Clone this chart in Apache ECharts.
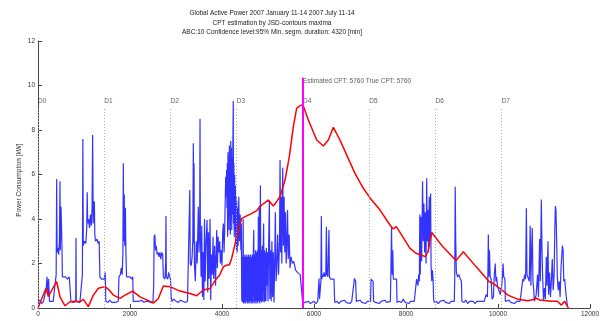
<!DOCTYPE html>
<html>
<head>
<meta charset="utf-8">
<script src="https://cdn.jsdelivr.net/npm/echarts@6/dist/echarts.min.js"></script>
<style>
  html, body { margin: 0; padding: 0; background: #fff; }
  #main { width: 603px; height: 321px; }
</style>
</head>
<body>
<div id="main"></div>
<script>
"use strict";

// 分钟 / 功率 (蓝色原始数据)
let blueT = [
  0, 40, 80, 120, 160, 180, 196, 215, 230, 250, 290, 330, 370, 395, 406, 415, 430, 450, 465, 478,
  485, 495, 500, 510, 520, 530, 560, 600, 640, 680, 700, 715, 760, 800, 820, 826, 832, 870, 910, 950,
  965, 975, 985, 1010, 1040, 1060, 1070, 1080, 1100, 1120, 1140, 1160, 1175, 1188, 1200, 1215, 1225, 1235, 1250, 1280,
  1310, 1330, 1345, 1380, 1410, 1440, 1460, 1475, 1520, 1560, 1600, 1640, 1680, 1720, 1745, 1760, 1790, 1810, 1830, 1845,
  1855, 1865, 1875, 1885, 1900, 1910, 1925, 1960, 2000, 2040, 2060, 2070, 2120, 2160, 2200, 2250, 2300, 2350, 2400, 2450,
  2500, 2515, 2525, 2540, 2555, 2570, 2590, 2610, 2630, 2650, 2670, 2690, 2710, 2725, 2760, 2775, 2782, 2790, 2820, 2840,
  2860, 2880, 2895, 2910, 2950, 3000, 3050, 3100, 3150, 3200, 3250, 3290, 3300, 3310, 3330, 3350, 3365, 3377, 3385, 3392,
  3400, 3420, 3440, 3460, 3485, 3500, 3515, 3522, 3530, 3545, 3560, 3575, 3590, 3605, 3620, 3635, 3650, 3675, 3690, 3705,
  3720, 3740, 3755, 3770, 3790, 3805, 3820, 3840, 3860, 3885, 3900, 3915, 3930, 3950, 3965, 3985, 4000, 4015, 4030, 4045,
  4060, 4080, 4090, 4100, 4108, 4115, 4122, 4130, 4138, 4145, 4152, 4160, 4168, 4175, 4182, 4190, 4198, 4205, 4212, 4220,
  4228, 4235, 4245, 4250, 4258, 4266, 4274, 4282, 4290, 4298, 4306, 4314, 4322, 4330, 4340, 4350, 4365, 4380, 4395, 4410,
  4420, 4430, 4440, 4450, 4460, 4470, 4480, 4490, 4500, 4510, 4520, 4530, 4540, 4550, 4560, 4570, 4580, 4590, 4600, 4610,
  4620, 4630, 4640, 4650, 4660, 4670, 4680, 4690, 4700, 4710, 4720, 4730, 4740, 4750, 4760, 4770, 4780, 4790, 4800, 4810,
  4820, 4835, 4845, 4855, 4865, 4875, 4885, 4895, 4905, 4915, 4925, 4935, 4945, 4955, 4965, 4975, 4990, 5000, 5015, 5030,
  5040, 5055, 5070, 5085, 5100, 5115, 5130, 5145, 5160, 5175, 5190, 5210, 5230, 5250, 5262, 5275, 5290, 5300, 5320, 5335,
  5350, 5365, 5380, 5395, 5410, 5425, 5440, 5460, 5480, 5500, 5530, 5560, 5600, 5640, 5665, 5700, 5740, 5755, 5760, 5800,
  5840, 5880, 5920, 5960, 6000, 6040, 6080, 6100, 6110, 6120, 6150, 6160, 6170, 6185, 6200, 6220, 6240, 6255, 6270, 6280,
  6300, 6325, 6335, 6360, 6400, 6435, 6450, 6500, 6540, 6580, 6620, 6660, 6700, 6740, 6780, 6820, 6860, 6880, 6905, 6920,
  6960, 7000, 7040, 7080, 7120, 7160, 7200, 7230, 7240, 7265, 7285, 7295, 7340, 7380, 7420, 7460, 7500, 7540, 7580, 7620,
  7660, 7670, 7685, 7700, 7712, 7725, 7760, 7795, 7805, 7850, 7900, 7940, 7980, 8020, 8060, 8100, 8140, 8180, 8220, 8230,
  8260, 8275, 8290, 8300, 8310, 8325, 8340, 8360, 8375, 8390, 8405, 8420, 8435, 8450, 8462, 8475, 8490, 8505, 8520, 8535,
  8545, 8560, 8575, 8590, 8600, 8615, 8660, 8700, 8740, 8780, 8820, 8860, 8900, 8940, 8980, 9020, 9050, 9060, 9070, 9080,
  9095, 9120, 9150, 9180, 9205, 9215, 9260, 9300, 9340, 9380, 9420, 9460, 9500, 9540, 9580, 9620, 9660, 9700, 9740, 9770,
  9780, 9790, 9800, 9815, 9830, 9850, 9870, 9900, 9920, 9940, 9955, 9970, 9990, 10020, 10050, 10080, 10095, 10110, 10125, 10150,
  10160, 10200, 10240, 10280, 10320, 10360, 10400, 10440, 10480, 10520, 10540, 10560, 10580, 10600, 10617, 10630, 10660, 10680, 10700, 10715,
  10730, 10745, 10760, 10775, 10790, 10810, 10830, 10860, 10880, 10905, 10920, 10942, 10955, 10970, 10990, 11010, 11030, 11050, 11065, 11087,
  11100, 11120, 11140, 11160, 11180, 11200, 11220, 11235, 11247, 11260, 11275, 11290, 11310, 11330, 11350, 11370, 11400, 11415, 11430, 11450,
  11470, 11490, 11510
];
let blueP = [
  0.25, 0.35, 0.2, 0.3, 0.25, 0.9, 1.4, 0.6, 1.3, 0.3, 0.25, 0.3, 0.3, 1.5, 5.8, 2.5, 2.7, 2.4, 3.0, 5.7,
  2.6, 3.6, 4.55, 3.8, 2.9, 1.4, 1.35, 1.4, 1.3, 1.4, 1.4, 0.3, 0.25, 0.3, 0.3, 3.15, 0.3, 0.35, 0.25, 0.3,
  1.5, 7.6, 2.8, 3.0, 2.9, 3.6, 5.2, 3.8, 4.0, 3.6, 4.2, 3.7, 4.5, 7.78, 3.8, 4.6, 4.8, 3.3, 3.0, 3.1,
  2.9, 3.0, 1.4, 1.3, 1.35, 1.3, 1.6, 0.3, 0.25, 0.35, 0.25, 0.3, 0.25, 0.3, 0.3, 1.4, 1.5, 1.8, 1.5, 2.4,
  6.5, 3.0, 5.1, 2.8, 4.5, 2.6, 1.4, 1.35, 1.4, 1.3, 1.4, 0.3, 0.3, 0.25, 0.3, 0.35, 0.25, 0.3, 0.3, 0.25,
  0.3, 1.0, 3.2, 3.3, 2.6, 2.8, 2.4, 2.5, 2.3, 2.5, 2.2, 2.5, 2.4, 1.4, 1.3, 2.0, 4.13, 1.4, 1.3, 1.6,
  1.4, 1.3, 0.5, 0.3, 0.4, 0.3, 0.25, 0.35, 0.3, 0.25, 0.3, 0.3, 5.3, 2.0, 1.9, 2.3, 3.0, 7.4, 2.9, 6.5,
  2.0, 1.2, 3.0, 2.0, 4.55, 2.5, 3.5, 8.5, 3.5, 1.4, 3.7, 0.5, 2.5, 0.36, 4.0, 1.2, 2.8, 3.95, 0.7, 3.4,
  1.3, 4.0, 0.35, 2.4, 1.5, 3.2, 1.3, 2.8, 1.0, 3.5, 1.8, 3.2, 2.5, 3.0, 2.0, 2.6, 1.9, 3.4, 3.8, 2.5,
  3.7, 5.9, 5.0, 6.2, 4.5, 6.5, 3.2, 7.0, 4.0, 6.8, 3.5, 7.3, 4.5, 6.5, 3.3, 7.5, 4.0, 7.2, 3.5, 6.8,
  4.2, 7.0, 9.3, 3.8, 6.5, 3.2, 6.0, 3.5, 5.5, 3.0, 5.0, 2.6, 4.8, 2.5, 4.5, 2.8, 5.0, 3.0, 4.2, 2.6,
  3.8, 0.3, 2.3, 0.25, 4.0, 0.2, 2.3, 0.25, 2.4, 0.2, 2.3, 0.3, 2.4, 0.2, 2.3, 0.25, 2.4, 0.2, 2.3, 0.3,
  2.4, 0.2, 2.3, 0.25, 2.4, 0.2, 2.3, 3.5, 0.25, 2.4, 0.2, 2.6, 0.3, 2.5, 0.2, 2.6, 0.25, 4.1, 0.3, 4.6,
  0.2, 5.5, 0.3, 2.6, 0.25, 2.8, 0.3, 2.5, 3.8, 0.25, 2.6, 0.3, 2.5, 0.3, 2.7, 1.0, 2.5, 0.3, 3.0, 4.8,
  0.4, 2.6, 0.3, 3.0, 0.5, 2.5, 0.25, 2.0, 4.3, 1.2, 1.7, 3.3, 1.5, 3.0, 6.65, 2.5, 5.0, 2.0, 6.3, 2.8,
  5.0, 2.5, 4.3, 2.0, 2.9, 4.4, 2.2, 3.3, 1.8, 2.3, 2.0, 2.1, 1.7, 1.6, 1.6, 1.5, 1.5, 0.2, 0.15, 0.25,
  0.2, 0.3, 0.2, 0.25, 0.3, 0.2, 0.3, 0.35, 1.33, 0.4, 1.2, 4.13, 1.3, 1.5, 1.4, 1.6, 1.4, 1.5, 3.65, 1.5,
  1.4, 3.5, 1.4, 1.3, 1.35, 1.3, 0.25, 0.3, 0.2, 0.3, 0.25, 0.35, 0.25, 0.3, 0.2, 0.3, 0.3, 1.33, 1.2, 0.3,
  0.25, 0.35, 0.25, 0.3, 0.2, 0.3, 0.25, 0.3, 1.3, 1.35, 1.2, 0.3, 0.25, 0.3, 0.2, 0.3, 0.25, 0.35, 0.25, 0.3,
  0.3, 1.4, 3.6, 1.5, 2.6, 1.3, 1.35, 1.3, 0.25, 0.3, 0.25, 0.4, 0.25, 0.3, 0.2, 0.3, 0.25, 0.3, 0.35, 1.3,
  1.0, 1.5, 1.2, 4.2, 1.5, 4.1, 2.1, 5.7, 3.0, 4.7, 2.5, 4.3, 2.0, 5.83, 3.0, 4.4, 2.5, 5.0, 3.0, 5.15,
  1.9, 1.2, 1.7, 1.2, 0.4, 0.25, 0.3, 0.2, 0.3, 0.25, 0.35, 0.25, 0.3, 0.2, 0.3, 0.25, 0.3, 1.4, 5.45, 3.2,
  1.6, 1.4, 1.5, 1.3, 1.2, 0.3, 0.25, 0.35, 0.2, 0.3, 0.25, 0.3, 0.2, 0.3, 0.25, 0.3, 0.35, 0.3, 0.6, 0.5,
  1.5, 3.3, 1.4, 2.6, 1.4, 1.3, 0.4, 0.5, 1.5, 2.0, 1.2, 1.4, 0.95, 0.8, 0.6, 1.0, 1.4, 2.0, 1.4, 1.3,
  0.3, 0.25, 0.35, 0.25, 0.3, 0.2, 0.3, 0.25, 0.3, 0.3, 1.3, 1.2, 1.5, 1.3, 4.48, 1.5, 1.5, 1.2, 3.7, 1.0,
  2.5, 3.6, 1.2, 0.9, 0.3, 0.35, 0.6, 1.5, 0.5, 3.1, 1.2, 4.88, 2.8, 1.4, 0.35, 0.9, 0.4, 2.3, 1.0, 3.0,
  0.6, 1.6, 0.5, 1.2, 2.2, 0.8, 1.5, 3.5, 4.58, 4.4, 3.0, 1.4, 0.8, 1.2, 0.5, 1.8, 2.8, 2.6, 1.2, 1.3,
  0.8, 0.4, 0.1
];

// 分钟 / 功率 (红色 JSD 曲线)
let redT = [
  0, 174, 225, 300, 406, 478, 587, 696, 800, 913, 985, 1094, 1203, 1312, 1457, 1550, 1638, 1783, 1892, 2058,
  2217, 2399, 2508, 2616, 2725, 2870, 3087, 3305, 3450, 3594, 3739, 3884, 3950, 4029, 4101, 4159, 4210, 4319, 4428, 4537,
  4650, 4754, 4863, 5007, 5116, 5261, 5370, 5464, 5551, 5623, 5700, 5760, 5877, 6058, 6203, 6312, 6420, 6565, 6710, 6891,
  7072, 7254, 7435, 7652, 7720, 7790, 7900, 8087, 8217, 8420, 8450, 8480, 8560, 8797, 9087, 9246, 9522, 9811, 9898, 10087,
  10217, 10435, 10652, 10768, 10833, 10906, 11159, 11290, 11377, 11450, 11530
];
let redP = [
  0, 0.89, 0.52, 0.8, 1.18, 0.5, 0.1, 0.28, 0.3, 0.28, 0.39, 0.06, 0.58, 0.89, 0.96, 0.8, 0.58, 0.43, 0.58, 0.76,
  0.5, 0.33, 0.22, 0.43, 0.99, 0.96, 0.76, 0.65, 0.55, 0.81, 0.88, 1.33, 1.48, 1.85, 1.93, 1.93, 2.23, 3.2, 4.03, 4.14,
  4.25, 4.38, 4.63, 4.85, 4.58, 5.0, 5.75, 6.8, 8.15, 8.97, 9.1, 9.12, 8.45, 7.55, 7.28, 7.55, 8.12, 7.55, 6.88, 6.05,
  5.38, 4.85, 4.4, 3.73, 3.55, 3.66, 3.3, 2.68, 2.46, 2.31, 2.3, 2.55, 3.39, 2.76, 2.13, 2.53, 1.86, 1.18, 1.1, 0.81,
  0.58, 0.39, 0.33, 0.38, 0.44, 0.36, 0.3, 0.3, 0.13, 0.3, 0
];

// 天分割线
let dayPos = [0, 1440, 2880, 4320, 5760, 7200, 8640, 10080];
let dayNames = ['D0', 'D1', 'D2', 'D3', 'D4', 'D5', 'D6', 'D7'];
let cptPos = 5760;
let cptText = 'Estimated CPT: 5760 True CPT: 5760';

let titleText = 'Global Active Power 2007 January 11-14 2007 July 11-14\n' +
  'CPT estimation by JSD-contours maxima\n' +
  'ABC:10 Confidence level:95% Min. segm. duration: 4320 [min]';

let font = 'Liberation Sans, Arial, sans-serif';

let myChart = echarts.init(document.getElementById('main'), null, { renderer: 'canvas' });

let blueData = blueT.map(function (t, i) { return [t, blueP[i]]; });
let redData = redT.map(function (t, i) { return [t, redP[i]]; });

let markData = dayPos.map(function (x) {
  return [
    { coord: [x, 0], lineStyle: { color: '#aaa', type: [1, 2], width: 1 } },
    { coord: [x, 9.0] },
  ];
});
markData.push([
  { coord: [cptPos, 0], lineStyle: { color: '#ff00ff', type: 'solid', width: 2 } },
  { coord: [cptPos, 10.35] },
]);

let option = {
  animation: false,
  backgroundColor: '#fff',
  title: { // 三行标题
    text: titleText,
    left: 272,
    top: 9,
    textAlign: 'center',
    padding: 0,
    textStyle: {
      fontFamily: font,
      fontSize: 6.5,
      fontWeight: 'normal',
      color: '#222',
      lineHeight: 9.3,
    },
  },
  grid: {
    left: 38,
    right: 13,
    top: 41,
    bottom: 13,
  },
  xAxis: {
    type: 'value',
    min: 0,
    max: 12000,
    interval: 2000,
    axisLine: { lineStyle: { color: '#444', width: 1 } },
    axisTick: { inside: true, length: 4, lineStyle: { color: '#444' } },
    axisLabel: {
      fontFamily: font, fontSize: 6.5, color: '#333', margin: 3,
      formatter: function (v) { return String(v); },
    },
    splitLine: { show: false },
  },
  yAxis: {
    type: 'value',
    min: 0,
    max: 12,
    interval: 2,
    name: 'Power Consumption [kW]',
    nameLocation: 'middle',
    nameGap: 15,
    nameMoveOverlap: false,
    nameTextStyle: { fontFamily: font, fontSize: 6.5, color: '#333', padding: [0, 11, 0, 0] },
    axisLine: { show: true, lineStyle: { color: '#444', width: 1 } },
    axisTick: { show: true, inside: true, length: 4, lineStyle: { color: '#444' } },
    axisLabel: { fontFamily: font, fontSize: 6.5, color: '#333', margin: 3 },
    splitLine: { show: false },
  },
  series: [
    {
      name: 'power',
      type: 'line',
      data: blueData,
      showSymbol: false,
      lineStyle: { color: 'rgba(0,0,255,0.8)', width: 1.2 },
      z: 2,
    },
    {
      name: 'jsd',
      type: 'line',
      data: redData,
      showSymbol: false,
      lineStyle: { color: '#ff0000', width: 1.5 },
      z: 3,
    },
    { // 天标签 + 分割线
      name: 'days',
      type: 'scatter',
      data: dayPos.map(function (x) { return [x, 9.3]; }),
      symbolSize: 0,
      label: {
        show: true,
        position: 'right',
        distance: 0,
        fontFamily: font,
        fontSize: 6.5,
        color: '#333',
        formatter: function (p) { return dayNames[p.dataIndex]; },
      },
      markLine: {
        silent: true,
        symbol: ['none', 'none'],
        label: { show: false },
        data: markData,
      },
      z: 1,
    },
    { // CPT 标签
      name: 'cpt',
      type: 'scatter',
      data: [[cptPos, 10.2]],
      symbolSize: 0,
      label: {
        show: true,
        position: 'right',
        distance: 0,
        fontFamily: font,
        fontSize: 6.5,
        color: '#333',
        formatter: cptText,
      },
      z: 4,
    },
  ],
};

myChart.setOption(option);
</script>
</body>
</html>
